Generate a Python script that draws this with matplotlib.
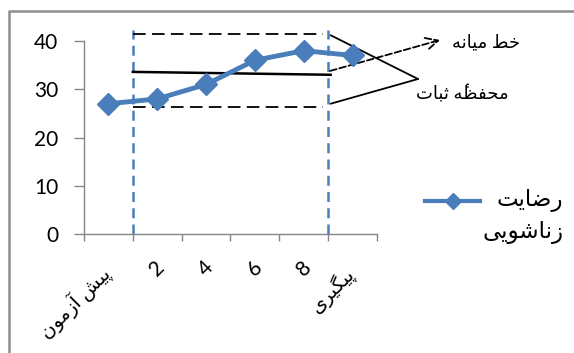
import matplotlib
matplotlib.use('Agg')
import matplotlib.pyplot as plt
import matplotlib.transforms as mtransforms
from matplotlib.lines import Line2D

# Contextual forms for the Persian letters used in the labels:
# (isolated, final, initial, medial); None means the letter never joins to the left
FORMS = {
    '\u0622': ('\uFE81', '\uFE82', None, None),
    '\u0627': ('\uFE8D', '\uFE8E', None, None),
    '\u0628': ('\uFE8F', '\uFE90', '\uFE91', '\uFE92'),
    '\u062A': ('\uFE95', '\uFE96', '\uFE97', '\uFE98'),
    '\u062B': ('\uFE99', '\uFE9A', '\uFE9B', '\uFE9C'),
    '\u062D': ('\uFEA1', '\uFEA2', '\uFEA3', '\uFEA4'),
    '\u062E': ('\uFEA5', '\uFEA6', '\uFEA7', '\uFEA8'),
    '\u0631': ('\uFEAD', '\uFEAE', None, None),
    '\u0632': ('\uFEAF', '\uFEB0', None, None),
    '\u0634': ('\uFEB5', '\uFEB6', '\uFEB7', '\uFEB8'),
    '\u0636': ('\uFEBD', '\uFEBE', '\uFEBF', '\uFEC0'),
    '\u0637': ('\uFEC1', '\uFEC2', '\uFEC3', '\uFEC4'),
    '\u0638': ('\uFEC5', '\uFEC6', '\uFEC7', '\uFEC8'),
    '\u0641': ('\uFED1', '\uFED2', '\uFED3', '\uFED4'),
    '\u0645': ('\uFEE1', '\uFEE2', '\uFEE3', '\uFEE4'),
    '\u0646': ('\uFEE5', '\uFEE6', '\uFEE7', '\uFEE8'),
    '\u0647': ('\uFEE9', '\uFEEA', '\uFEEB', '\uFEEC'),
    '\u0648': ('\uFEED', '\uFEEE', None, None),
    '\u067E': ('\uFB56', '\uFB57', '\uFB58', '\uFB59'),
    '\u06AF': ('\uFB92', '\uFB93', '\uFB94', '\uFB95'),
    '\u06CC': ('\uFBFC', '\uFBFD', '\uFBFE', '\uFBFF'),
}
MARKS = {'\u0654'}  # hamza above


def shape(text):
    """Join Persian letters and put them in visual (right-to-left) order."""
    lines = []
    for line in text.split('\n'):
        letters = [c for c in line]
        # neighbours ignoring combining marks
        bases = [i for i, c in enumerate(letters) if c not in MARKS]
        clusters = []
        for k, i in enumerate(bases):
            c = letters[i]
            prev = letters[bases[k - 1]] if k > 0 else ''
            nxt = letters[bases[k + 1]] if k + 1 < len(bases) else ''
            if c in FORMS:
                join_prev = prev in FORMS and FORMS[prev][2] is not None
                join_next = nxt in FORMS and FORMS[c][2] is not None
                isol, fin, ini, med = FORMS[c]
                if join_prev and join_next:
                    c = med
                elif join_prev:
                    c = fin
                elif join_next:
                    c = ini
                else:
                    c = isol
            # keep marks right after their base letter
            j = i + 1
            while j < len(letters) and letters[j] in MARKS:
                c += letters[j]
                j += 1
            clusters.append(c)
        lines.append(''.join(reversed(clusters)))
    return '\n'.join(lines)


# Data
sessions = ['پیش آزمون', '2', '4', '6', '8', 'پیگیری']
satisfaction = [27, 28, 31, 36, 38, 37]
series_name = 'رضایت زناشویی'

phase_bounds = [0.5, 4.5]          # treatment phase limits (between categories)
phase_top = 42.2
mean_x = [0.5, 4.55]
mean_line = [33.6, 33.0]
envelope_x = [0.5, 4.4]
envelope_upper = 41.4
envelope_lower = 26.4

mean_label = 'خط میانه'
envelope_label = 'محفظه\u0654 ثبات'

BLUE = '#4A7EBB'
GRAY = '#868686'
FONTS = ['Lato', 'DejaVu Sans']

plt.rcParams['font.family'] = FONTS

W, H = 574, 353
fig = plt.figure(figsize=(W / 100, H / 100), dpi=100)
ax = fig.add_axes([84 / W, 1 - 234 / H, (377 - 84) / W, (234 - 41) / H])

x = list(range(len(sessions)))
ax.plot(x, satisfaction, color=BLUE, lw=3.5, marker='D', ms=11,
        solid_joinstyle='round', zorder=4, clip_on=False)

# phase change lines
for b in phase_bounds:
    ax.plot([b, b], [0, phase_top], color=BLUE, lw=1.8, ls=(0, (4, 2.5)),
            clip_on=False, zorder=2)

# mean line and stability envelope
ax.plot(mean_x, mean_line, color='black', lw=1.8, zorder=3, clip_on=False)
for yv in (envelope_upper, envelope_lower):
    ax.plot(envelope_x, [yv, yv], color='black', lw=1.3, ls=(0, (7, 3.5)),
            clip_on=False, zorder=3)

ax.set_xlim(-0.5, len(sessions) - 0.5)
ax.set_ylim(0, 40)
ax.set_yticks([0, 10, 20, 30, 40])

# category boundaries as major ticks, labels sit on minor ticks
ax.set_xticks([i - 0.5 for i in range(len(sessions) + 1)])
ax.set_xticklabels([])
ax.set_xticks(x, minor=True)
ax.set_xticklabels([shape(s) for s in sessions], minor=True, rotation=45,
                   ha='right', va='center_baseline', rotation_mode='anchor')
ax.tick_params(axis='x', which='major', length=5, width=1, color=GRAY)
ax.tick_params(axis='x', which='minor', length=0, pad=21)
ax.tick_params(axis='y', length=7, width=1, color=GRAY, labelsize=15, pad=11.5)
for lab in ax.get_xticklabels(minor=True):
    if lab.get_text().isdigit():
        dx, dy, size = 0.03, 0, 15
    else:
        # Persian words sit a little lower and left
        dx, dy, size = -0.03, -0.06, 14
    shift = mtransforms.ScaledTranslation(dx, dy, fig.dpi_scale_trans)
    lab.set_transform(lab.get_transform() + shift)
    lab.set_fontsize(size)

for side in ('top', 'right'):
    ax.spines[side].set_visible(False)
for side in ('left', 'bottom'):
    ax.spines[side].set_color(GRAY)
    ax.spines[side].set_linewidth(1)

# annotations on the right
ax.annotate('', xy=(440, H - 40), xycoords='figure pixels',
            xytext=(4.54, 33.8), textcoords='data',
            arrowprops=dict(arrowstyle='->', ls='--', lw=1.3, color='black',
                            mutation_scale=22, shrinkA=0, shrinkB=0))
fig.text(452 / W, 1 - 42 / H, shape(mean_label), fontsize=13,
         ha='left', va='center')
for sy in (envelope_upper - 0.2, envelope_lower + 0.6):
    ax.annotate('', xy=(418, H - 79), xycoords='figure pixels',
                xytext=(4.55, sy), textcoords='data',
                arrowprops=dict(arrowstyle='-', lw=1.3, color='black',
                                shrinkA=0, shrinkB=0))
fig.text(416 / W, 1 - 93 / H, shape(envelope_label), fontsize=13,
         ha='left', va='center')

# legend
fig.add_artist(Line2D([425 / W, 480 / W], [1 - 201 / H, 1 - 201 / H],
                      color=BLUE, lw=3, transform=fig.transFigure))
fig.add_artist(Line2D([452.5 / W], [1 - 201 / H], color=BLUE, marker='D',
                      ms=8.5, transform=fig.transFigure))
for i, word in enumerate(series_name.split()):
    fig.text(563 / W, 1 - (201 + 32 * i) / H, shape(word), fontsize=16.5,
             ha='right', va='center')

# chart area frame (top and left edges)
fig.add_artist(Line2D([8.7 / W, 8.7 / W, 1], [0, 1 - 11.3 / H, 1 - 11.3 / H],
                      color='#8E8E8E', lw=1.8, transform=fig.transFigure))

fig.savefig('out.png', dpi=100)
